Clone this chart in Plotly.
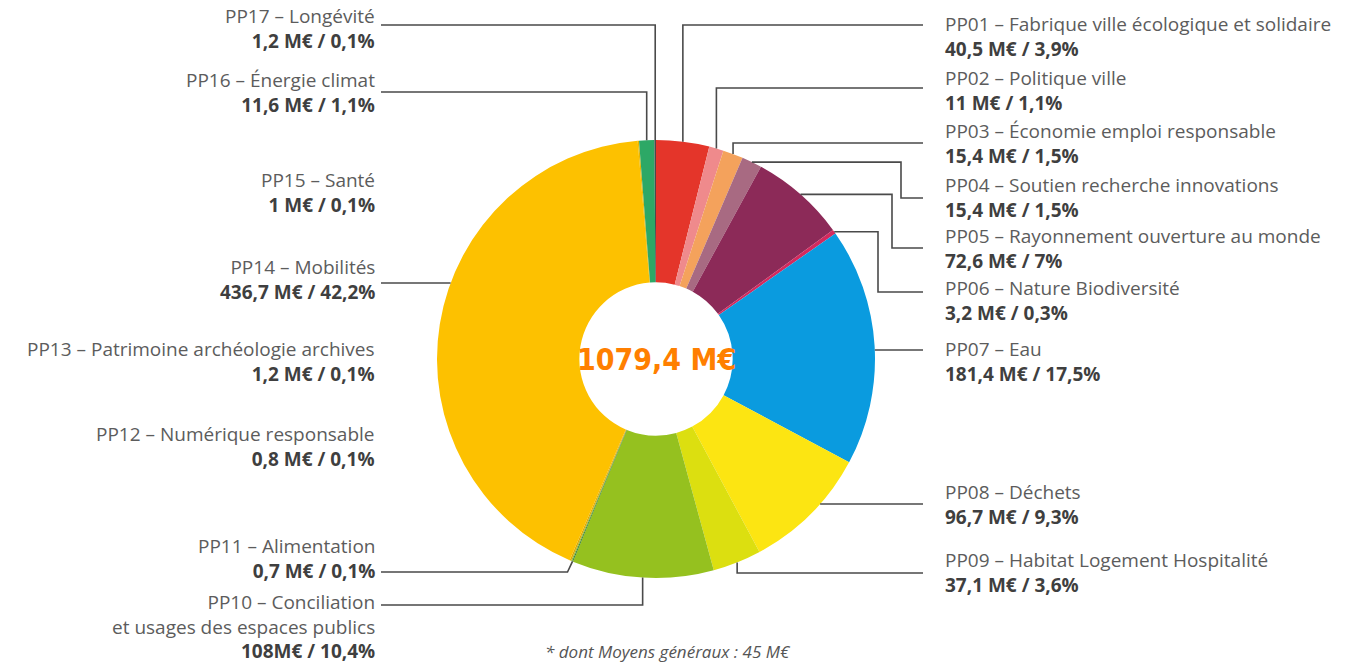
import math
import plotly.graph_objects as go

W, H = 1351, 665

# ---------------- data ----------------
codes = ["PP01", "PP02", "PP03", "PP04", "PP05", "PP06", "PP07", "PP08", "PP09",
         "PP10", "PP11", "PP12", "PP13", "PP14", "PP15", "PP16", "PP17"]
names = ["Fabrique ville écologique et solidaire", "Politique ville",
         "Économie emploi responsable", "Soutien recherche innovations",
         "Rayonnement ouverture au monde", "Nature Biodiversité", "Eau", "Déchets",
         "Habitat Logement Hospitalité", "Conciliation<br>et usages des espaces publics",
         "Alimentation", "Numérique responsable", "Patrimoine archéologie archives",
         "Mobilités", "Santé", "Énergie climat", "Longévité"]
values = [40.5, 11, 15.4, 15.4, 72.6, 3.2, 181.4, 96.7, 37.1,
          108, 0.7, 0.8, 1.2, 436.7, 1, 11.6, 1.2]
value_text = ["40,5 M€ / 3,9%", "11 M€ / 1,1%", "15,4 M€ / 1,5%", "15,4 M€ / 1,5%",
              "72,6 M€ / 7%", "3,2 M€ / 0,3%", "181,4 M€ / 17,5%", "96,7 M€ / 9,3%",
              "37,1 M€ / 3,6%", "108M€ / 10,4%", "0,7 M€ / 0,1%", "0,8 M€ / 0,1%",
              "1,2 M€ / 0,1%", "436,7 M€ / 42,2%", "1 M€ / 0,1%", "11,6 M€ / 1,1%",
              "1,2 M€ / 0,1%"]
total_text = "1079,4 M€"
footnote = "* dont Moyens généraux : 45 M€"

colors = ["#E4352A", "#EF8A8C", "#F4A25C", "#A86A82", "#8C2A58", "#D42A5E", "#0A9BDF",
          "#FCE512", "#DCDF10", "#95C11F", "#2F7A2A", "#8DB83A", "#E0A800", "#FDC100",
          "#E8B500", "#2DA866", "#4A4A4A"]

# ---------------- layout params (pixels) ----------------
CX, CY, R = 656, 359, 219
HOLE = 0.35
RIGHT_TXT_X, RIGHT_LINE_END = 943, 923
LEFT_TXT_X, LEFT_LINE_END = 377, 381
FS = 19
LABEL_FONT = "'Open Sans', 'Noto Sans', sans-serif"

label_side = {"PP01": "R", "PP02": "R", "PP03": "R", "PP04": "R", "PP05": "R", "PP06": "R",
              "PP07": "R", "PP08": "R", "PP09": "R", "PP10": "L", "PP11": "L", "PP12": "L",
              "PP13": "L", "PP14": "L", "PP15": "L", "PP16": "L", "PP17": "L"}
# vertical centre of each label block
label_cy = {"PP01": 36, "PP02": 91, "PP03": 143, "PP04": 197, "PP05": 248, "PP06": 300,
            "PP07": 362, "PP08": 504, "PP09": 572, "PP10": 626, "PP11": 558, "PP12": 446,
            "PP13": 362, "PP14": 279, "PP15": 192, "PP16": 93, "PP17": 28}

# leader style: (kind, y of label-side horizontal, x of elbow)
leaders = {"PP01": ("vert", 25, None), "PP02": ("vert", 88, None), "PP03": ("vert", 143, None),
           "PP04": ("elbow", 198, 901), "PP05": ("elbow", 248, 892), "PP06": ("elbow", 292, 878),
           "PP07": ("horiz", 350, None), "PP08": ("horiz", 504, None), "PP09": ("vert", 573, None),
           "PP10": ("vert", 605, None), "PP11": ("diag", 572, None), "PP14": ("horiz", 283, None),
           "PP16": ("vert", 92, None), "PP17": ("vert", 25, None)}

fig = go.Figure()
fig.add_trace(go.Pie(
    values=values, labels=codes, marker=dict(colors=colors, line=dict(width=0)),
    hole=HOLE, sort=False, direction="clockwise", rotation=0,
    textinfo="none", hoverinfo="label+value", showlegend=False,
    domain=dict(x=[(CX - R) / W, (CX + R) / W], y=[(H - CY - R) / H, (H - CY + R) / H]),
))

def px(x):
    return x / W

def py(y):
    return 1 - y / H

total = sum(values)
cum = 0
shapes = []
annotations = []
for code, name, v, vt in zip(codes, names, values, value_text):
    mid = (cum + v / 2) / total * 2 * math.pi
    cum += v
    ax = CX + R * math.sin(mid)
    ay = CY - R * math.cos(mid)
    side = label_side[code]
    end_x = RIGHT_LINE_END if side == "R" else LEFT_LINE_END
    if code in leaders:
        kind, ly, ex = leaders[code]
        if kind == "vert":
            pts = [(ax, ay), (ax, ly), (end_x, ly)]
        elif kind == "elbow":
            pts = [(ax, ay), (ex, ay), (ex, ly), (end_x, ly)]
        elif kind == "diag":
            pts = [(ax, ay), (ax - 5, ly), (end_x, ly)]
        else:  # horizontal from the circle at that height
            dx = math.sqrt(R ** 2 - (ly - CY) ** 2)
            sx = CX + dx if side == "R" else CX - dx
            pts = [(sx, ly), (end_x, ly)]
        path = "M " + " L ".join(f"{px(x):.5f},{py(y):.5f}" for x, y in pts)
        shapes.append(dict(type="path", path=path, xref="paper", yref="paper",
                           line=dict(color="#4a4a4a", width=1.6)))
    text = f"{code} – {name}<br><b><span style='color:#3f3f3f'>{vt}</span></b>"
    annotations.append(dict(
        x=px(RIGHT_TXT_X if side == "R" else LEFT_TXT_X), y=py(label_cy[code]),
        xref="paper", yref="paper", xanchor="left" if side == "R" else "right",
        yanchor="middle", align="left" if side == "R" else "right",
        text=text, showarrow=False,
        font=dict(family=LABEL_FONT, size=FS, color="#5c5c5c"),
    ))

annotations.append(dict(x=px(CX), y=py(CY), xref="paper", yref="paper", text=f"<b>{total_text}</b>",
                        showarrow=False, xanchor="center", yanchor="middle",
                        font=dict(family="'DejaVu Sans Condensed', 'Liberation Sans Narrow', 'Liberation Sans', sans-serif",
                                  size=30, color="#FF7F00")))
annotations.append(dict(x=px(668), y=py(651), xref="paper", yref="paper", text=f"<i>{footnote}</i>",
                        showarrow=False, xanchor="center", yanchor="middle",
                        font=dict(family=LABEL_FONT, size=17, color="#555555")))

fig.update_layout(width=W, height=H, margin=dict(l=0, r=0, t=0, b=0),
                  paper_bgcolor="white", plot_bgcolor="white",
                  shapes=shapes, annotations=annotations)
fig.write_html("out.html", config={"displayModeBar": False},
               post_script="document.body.style.margin='0';")
